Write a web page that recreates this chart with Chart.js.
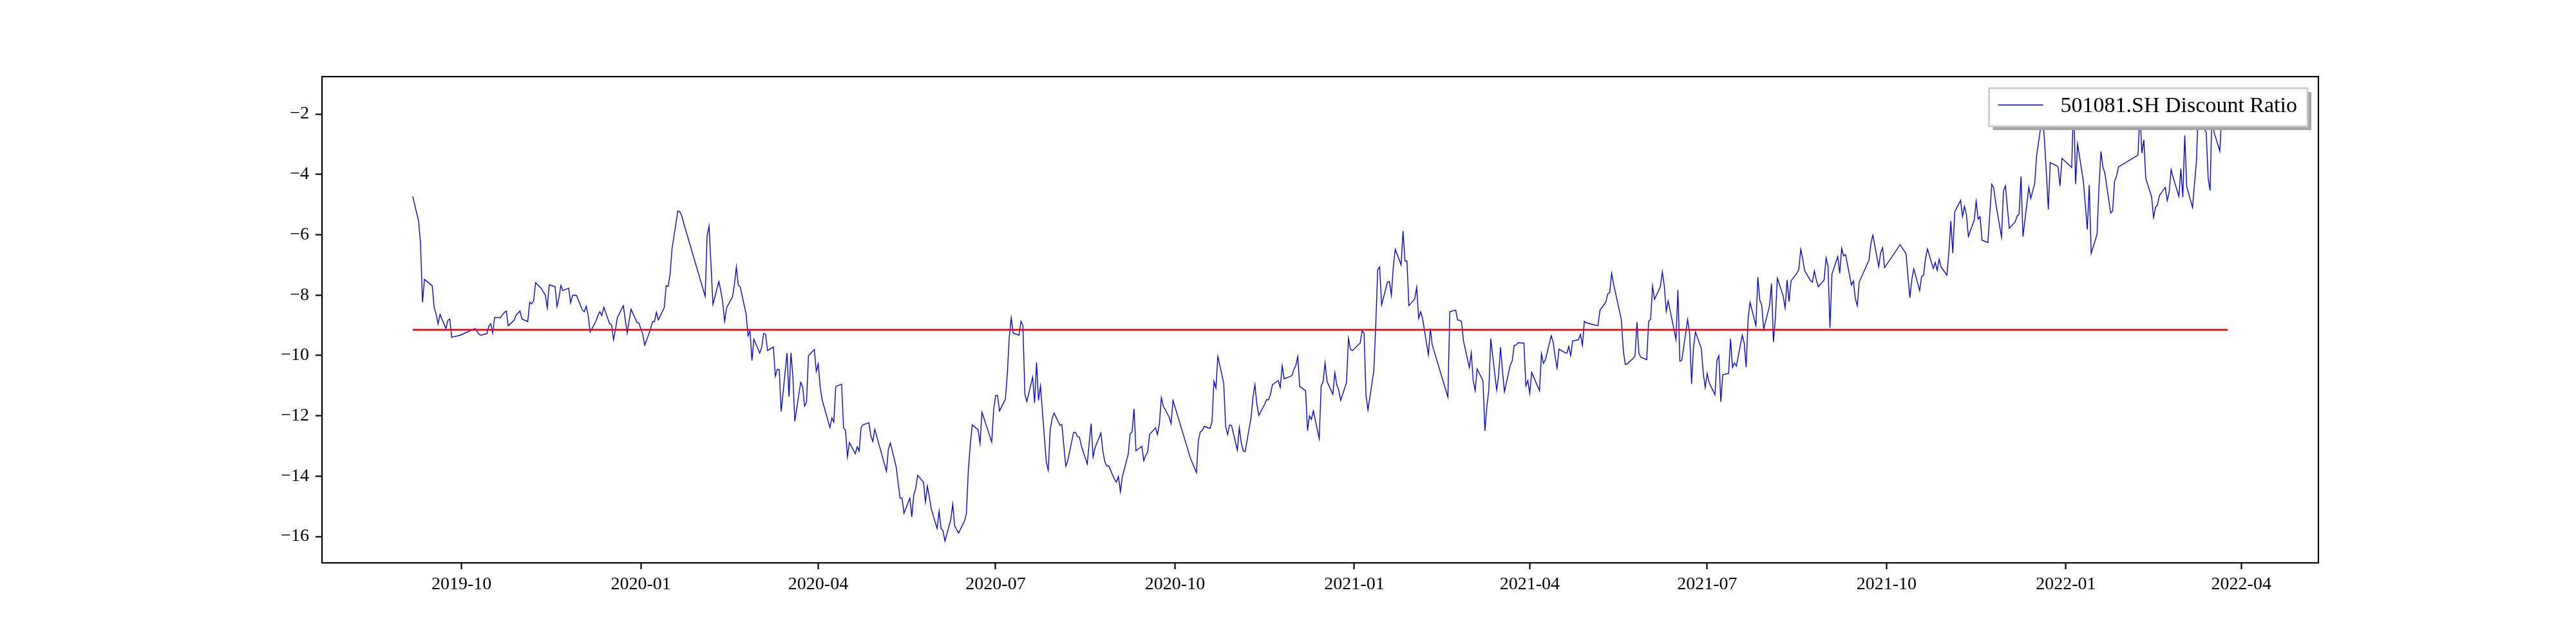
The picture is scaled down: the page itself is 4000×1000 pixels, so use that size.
<!DOCTYPE html>
<html>
<head>
<meta charset="utf-8">
<title>501081.SH Discount Ratio</title>
<script src="https://cdn.jsdelivr.net/npm/chart.js@4.4.1/dist/chart.umd.min.js"></script>
<style>
  html, body { margin: 0; padding: 0; background: #ffffff; }
  #wrap { width: 4000px; height: 1000px; }
</style>
</head>
<body>
<div id="wrap"><canvas id="myChart" width="4000" height="1000"></canvas></div>
<script>
// trading days (MM-DD) and discount ratio (%) per year
const days2019 = ['09-06','09-09','09-10','09-11','09-12','09-16','09-17','09-18','09-19','09-20',
  '09-23','09-24','09-25','09-26','09-27','09-30','10-08','10-09','10-10','10-11',
  '10-14','10-15','10-16','10-17','10-18','10-21','10-22','10-23','10-24','10-25',
  '10-28','10-29','10-30','10-31','11-01','11-04','11-05','11-06','11-07','11-08',
  '11-11','11-12','11-13','11-14','11-15','11-18','11-19','11-20','11-21','11-22',
  '11-25','11-26','11-27','11-28','11-29','12-02','12-03','12-04','12-05','12-06',
  '12-09','12-10','12-11','12-12','12-13','12-16','12-17','12-18','12-19','12-20',
  '12-23','12-24','12-25','12-26','12-27','12-30','12-31'];
const ratio2019 = [-4.73,-5.55,-6.29,-8.24,-7.48,-7.69,-8.42,-8.63,-8.96,-8.64,
  -9.11,-8.84,-8.79,-9.40,-9.38,-9.34,-9.11,-9.20,-9.30,-9.33,
  -9.28,-9.04,-8.95,-9.26,-8.74,-8.75,-8.65,-8.58,-8.53,-9.02,
  -8.83,-8.67,-8.60,-8.53,-8.79,-8.88,-8.24,-8.29,-8.19,-7.59,
  -7.78,-7.90,-7.99,-8.43,-7.66,-7.72,-8.38,-8.10,-7.68,-7.85,
  -7.77,-8.26,-8.01,-8.00,-8.01,-8.49,-8.55,-8.37,-8.67,-9.22,
  -8.86,-8.67,-8.55,-8.68,-8.40,-8.95,-8.98,-9.48,-9.13,-8.74,
  -8.35,-8.80,-9.26,-8.85,-8.47,-8.90,-8.93];

const days2020 = ['01-02','01-03','01-06','01-07','01-08','01-09','01-10','01-13','01-14','01-15',
  '01-16','01-17','01-20','01-21','01-22','01-23','02-03','02-04','02-05','02-06',
  '02-07','02-10','02-11','02-12','02-13','02-14','02-17','02-18','02-19','02-20',
  '02-21','02-24','02-25','02-26','02-27','02-28','03-02','03-03','03-04','03-05',
  '03-06','03-09','03-10','03-11','03-12','03-13','03-16','03-17','03-18','03-19',
  '03-20','03-23','03-24','03-25','03-26','03-27','03-30','03-31','04-01','04-02',
  '04-03','04-07','04-08','04-09','04-10','04-13','04-14','04-15','04-16','04-17',
  '04-20','04-21','04-22','04-23','04-24','04-27','04-28','04-29','04-30','05-06',
  '05-07','05-08','05-11','05-12','05-13','05-14','05-15','05-18','05-19','05-20',
  '05-21','05-22','05-25','05-26','05-27','05-28','05-29','06-01','06-02','06-03',
  '06-04','06-05','06-08','06-09','06-10','06-11','06-12','06-15','06-16','06-17',
  '06-18','06-19','06-22','06-23','06-24','06-29','06-30','07-01','07-02','07-03',
  '07-06','07-07','07-08','07-09','07-10','07-13','07-14','07-15','07-16','07-17',
  '07-20','07-21','07-22','07-23','07-24','07-27','07-28','07-29','07-30','07-31',
  '08-03','08-04','08-05','08-06','08-07','08-10','08-11','08-12','08-13','08-14',
  '08-17','08-18','08-19','08-20','08-21','08-24','08-25','08-26','08-27','08-28',
  '08-31','09-01','09-02','09-03','09-04','09-07','09-08','09-09','09-10','09-11',
  '09-14','09-15','09-16','09-17','09-18','09-21','09-22','09-23','09-24','09-25',
  '09-28','09-29','09-30','10-09','10-12','10-13','10-14','10-15','10-16','10-19',
  '10-20','10-21','10-22','10-23','10-26','10-27','10-28','10-29','10-30','11-02',
  '11-03','11-04','11-05','11-06','11-09','11-10','11-11','11-12','11-13','11-16',
  '11-17','11-18','11-19','11-20','11-23','11-24','11-25','11-26','11-27','11-30',
  '12-01','12-02','12-03','12-04','12-07','12-08','12-09','12-10','12-11','12-14',
  '12-15','12-16','12-17','12-18','12-21','12-22','12-23','12-24','12-25','12-28',
  '12-29','12-30','12-31'];
const ratio2020 = [-9.30,-9.66,-9.13,-8.88,-8.88,-8.57,-8.82,-8.42,-7.69,-7.71,
  -7.32,-6.47,-5.21,-5.24,-5.37,-5.62,-8.04,-6.03,-5.71,-7.00,
  -8.31,-7.55,-7.85,-8.24,-8.87,-8.42,-8.06,-7.67,-7.06,-7.67,
  -7.73,-8.63,-9.35,-9.18,-10.17,-9.46,-9.92,-9.73,-9.27,-9.30,
  -9.84,-9.72,-10.69,-10.46,-10.47,-11.86,-9.92,-11.36,-9.92,-10.69,
  -12.18,-10.89,-11.03,-11.68,-11.55,-10.01,-9.80,-10.53,-10.28,-11.04,
  -11.47,-12.39,-12.07,-12.21,-11.03,-10.95,-12.41,-12.48,-13.36,-12.89,
  -13.26,-13.03,-13.17,-12.38,-12.30,-12.23,-12.67,-12.85,-12.45,-13.84,
  -13.10,-12.90,-13.70,-14.23,-14.73,-14.73,-15.23,-14.73,-15.35,-14.62,
  -14.41,-13.97,-14.20,-14.86,-14.33,-14.70,-15.09,-15.74,-15.16,-15.73,
  -15.81,-16.15,-15.44,-14.93,-15.65,-15.77,-15.89,-15.49,-15.25,-13.81,
  -12.96,-12.30,-12.46,-12.92,-11.88,-12.87,-11.79,-11.33,-11.33,-11.84,
  -11.45,-10.62,-9.40,-8.75,-9.26,-9.33,-8.87,-9.00,-11.28,-11.53,
  -10.72,-11.57,-10.23,-11.49,-11.01,-13.54,-13.81,-12.46,-12.09,-11.91,
  -12.32,-12.29,-13.00,-13.67,-13.49,-12.55,-12.55,-12.69,-12.71,-13.00,
  -13.60,-12.90,-12.26,-13.37,-13.06,-12.57,-13.17,-13.52,-13.67,-13.66,
  -14.11,-14.20,-14.01,-14.52,-14.02,-13.28,-12.60,-12.53,-11.77,-13.16,
  -13.01,-13.49,-13.31,-13.20,-12.62,-12.40,-12.62,-12.28,-11.40,-11.68,
  -12.04,-12.26,-11.49,-13.42,-13.88,-12.82,-12.53,-12.49,-12.35,-12.42,
  -12.19,-10.85,-11.08,-10.03,-10.92,-12.35,-12.62,-12.31,-12.32,-13.14,
  -12.39,-12.89,-13.16,-13.19,-12.07,-11.40,-10.97,-11.61,-11.99,-11.62,
  -11.47,-11.47,-11.29,-10.97,-10.83,-11.06,-10.35,-10.77,-10.75,-10.67,
  -10.47,-10.33,-10.03,-11.03,-11.17,-12.49,-12.00,-12.12,-11.84,-12.76,
  -11.01,-10.87,-10.25,-10.86,-11.29,-10.57,-10.97,-11.15,-11.49,-10.90,
  -9.43,-9.80,-9.84];

const days2021 = ['01-04','01-05','01-06','01-07','01-08','01-11','01-12','01-13','01-14','01-15',
  '01-18','01-19','01-20','01-21','01-22','01-25','01-26','01-27','01-28','01-29',
  '02-01','02-02','02-03','02-04','02-05','02-08','02-09','02-10','02-18','02-19',
  '02-22','02-23','02-24','02-25','02-26','03-01','03-02','03-03','03-04','03-05',
  '03-08','03-09','03-10','03-11','03-12','03-15','03-16','03-17','03-18','03-19',
  '03-22','03-23','03-24','03-25','03-26','03-29','03-30','03-31','04-01','04-02',
  '04-06','04-07','04-08','04-09','04-12','04-13','04-14','04-15','04-16','04-19',
  '04-20','04-21','04-22','04-23','04-26','04-27','04-28','04-29','04-30','05-06',
  '05-07','05-10','05-11','05-12','05-13','05-14','05-17','05-18','05-19','05-20',
  '05-21','05-24','05-25','05-26','05-27','05-28','05-31','06-01','06-02','06-03',
  '06-04','06-07','06-08','06-09','06-10','06-11','06-15','06-16','06-17','06-18',
  '06-21','06-22','06-23','06-24','06-25','06-28','06-29','06-30','07-01','07-02',
  '07-05','07-06','07-07','07-08','07-09','07-12','07-13','07-14','07-15','07-16',
  '07-19','07-20','07-21','07-22','07-23','07-26','07-27','07-28','07-29','07-30',
  '08-02','08-03','08-04','08-05','08-06','08-09','08-10','08-11','08-12','08-13',
  '08-16','08-17','08-18','08-19','08-20','08-23','08-24','08-25','08-26','08-27',
  '08-30','08-31','09-01','09-02','09-03','09-06','09-07','09-08','09-09','09-10',
  '09-13','09-14','09-15','09-16','09-17','09-22','09-23','09-24','09-27','09-28',
  '09-29','09-30','10-08','10-11','10-12','10-13','10-14','10-15','10-18','10-19',
  '10-20','10-21','10-22','10-25','10-26','10-27','10-28','10-29','11-01','11-02',
  '11-03','11-04','11-05','11-08','11-09','11-10','11-11','11-12','11-15','11-16',
  '11-17','11-18','11-19','11-22','11-23','11-24','11-25','11-26','11-29','11-30',
  '12-01','12-02','12-03','12-06','12-07','12-08','12-09','12-10','12-13','12-14',
  '12-15','12-16','12-17','12-20','12-21','12-22','12-23','12-24','12-27','12-28',
  '12-29','12-30','12-31'];
const ratio2021 = [-9.59,-9.18,-9.26,-11.33,-11.81,-10.51,-9.00,-7.16,-7.07,-8.33,
  -7.57,-7.55,-8.01,-7.07,-6.48,-7.00,-5.88,-6.87,-6.87,-8.35,
  -8.13,-7.74,-8.77,-8.55,-8.77,-9.98,-9.11,-9.66,-11.38,-8.55,
  -8.50,-8.83,-8.83,-8.88,-9.52,-10.40,-9.91,-10.84,-11.17,-10.45,
  -10.84,-12.50,-11.68,-11.15,-9.45,-11.15,-10.69,-9.73,-10.51,-11.20,
  -10.32,-10.18,-9.67,-9.66,-9.58,-9.59,-11.01,-10.83,-11.26,-10.56,
  -11.17,-9.94,-10.26,-10.15,-9.35,-9.55,-10.04,-10.42,-9.79,-9.91,
  -9.93,-9.70,-10.01,-9.52,-9.48,-9.30,-9.67,-8.87,-8.92,-9.02,
  -8.50,-8.24,-7.96,-7.92,-7.28,-7.64,-8.52,-8.82,-9.84,-10.30,
  -10.28,-10.10,-10.02,-8.90,-9.94,-10.06,-10.14,-8.87,-8.80,-7.70,
  -8.14,-7.72,-7.23,-7.68,-8.54,-8.19,-9.47,-7.83,-10.19,-10.16,
  -8.81,-9.27,-10.94,-9.73,-9.22,-9.77,-10.58,-11.06,-10.60,-10.90,
  -11.31,-10.16,-10.00,-11.54,-10.64,-10.60,-9.45,-10.40,-10.25,-10.35,
  -9.33,-9.59,-10.39,-8.79,-8.24,-9.01,-7.41,-8.17,-8.33,-9.13,
  -8.35,-7.62,-9.55,-8.77,-7.44,-8.03,-8.43,-7.50,-8.22,-7.53,
  -7.28,-7.16,-6.48,-6.79,-7.19,-7.52,-7.57,-7.20,-7.50,-7.72,
  -7.50,-6.76,-7.04,-9.09,-7.31,-6.72,-7.28,-6.45,-6.70,-6.66,
  -7.67,-7.53,-8.11,-8.35,-7.57,-6.84,-6.29,-6.01,-7.06,-6.59,
  -6.43,-7.09,-6.33,-6.63,-7.36,-8.09,-7.48,-7.13,-7.85,-7.38,
  -7.34,-6.79,-6.47,-7.12,-6.92,-7.18,-6.81,-7.07,-7.34,-6.57,
  -5.55,-6.61,-5.24,-4.86,-5.40,-5.06,-5.33,-6.06,-5.51,-4.89,
  -5.48,-5.40,-6.18,-6.26,-5.30,-4.33,-4.45,-4.94,-6.08,-4.55,
  -4.38,-5.09,-5.79,-5.57,-5.38,-5.32,-4.07,-6.06,-4.43,-4.80,
  -4.55,-4.31,-3.38,-2.04,-2.83,-3.95,-5.16,-3.61,-3.70,-3.75,
  -4.38,-3.47,-3.53];

const days2022 = ['01-04','01-05','01-06','01-07','01-10','01-11','01-12','01-13','01-14','01-17',
  '01-18','01-19','01-20','01-21','01-24','01-25','01-26','01-27','01-28','02-07',
  '02-08','02-09','02-10','02-11','02-14','02-15','02-16','02-17','02-18','02-21',
  '02-22','02-23','02-24','02-25','02-28','03-01','03-02','03-03','03-04','03-07',
  '03-08','03-09','03-10','03-11','03-14','03-15','03-16','03-17','03-18','03-21',
  '03-22','03-23','03-24','03-25'];
const ratio2022 = [-3.77,-1.45,-4.32,-2.99,-4.23,-5.01,-5.83,-4.35,-6.62,-5.99,
  -4.41,-3.24,-3.76,-3.95,-5.28,-5.21,-4.23,-4.06,-3.75,-3.36,
  -1.89,-3.30,-2.85,-4.13,-4.75,-5.43,-5.09,-5.01,-4.70,-4.43,
  -4.87,-4.59,-3.84,-4.09,-4.73,-3.81,-4.75,-2.71,-4.40,-5.10,
  -4.31,-3.56,-1.68,-2.30,-2.60,-4.13,-4.53,-1.75,-2.60,-3.23,
  -1.90,-2.20,-1.95,-2.10];

// horizontal reference level (red line)
const meanRatio = -9.15;

// axis ticks
const xTickLabels = ['2019-10','2020-01','2020-04','2020-07','2020-10','2021-01',
  '2021-04','2021-07','2021-10','2022-01','2022-04'];
const yTickValues = [-16, -14, -12, -10, -8, -6, -4, -2];

const seriesLabel = '501081.SH Discount Ratio';

// day number counted from 2019-10-01
function dayNum(s) {
  const p = s.split('-').map(Number);
  return (Date.UTC(p[0], p[1] - 1, p[2] || 1) - Date.UTC(2019, 9, 1)) / 86400000;
}

const dates = [].concat(
  days2019.map(d => '2019-' + d),
  days2020.map(d => '2020-' + d),
  days2021.map(d => '2021-' + d),
  days2022.map(d => '2022-' + d)
);
const ratio = [].concat(ratio2019, ratio2020, ratio2021, ratio2022);

const points = dates.map((d, i) => ({ x: dayNum(d), y: ratio[i] }));
const firstDay = points[0].x;
const lastDay = points[points.length - 1].x;
const span = lastDay - firstDay;

const tickFont = { family: 'Liberation Serif', size: 28 };

// frame + legend drawn over the lines, like the original
const frameAndLegend = {
  id: 'frameAndLegend',
  afterDatasetsDraw(chart) {
    const ctx = chart.ctx;
    const a = chart.chartArea;
    ctx.save();
    ctx.strokeStyle = '#000';
    ctx.lineWidth = 2.2;
    ctx.strokeRect(a.left, a.top, a.right - a.left, a.bottom - a.top);

    ctx.font = '34px "Liberation Serif"';
    const tw = ctx.measureText(seriesLabel).width;
    const w = 14 + 70 + 27 + tw + 16;
    const h = 59;
    const x = a.right - 17 - w;
    const y = a.top + 18;

    ctx.fillStyle = '#a6a6a6';
    ctx.fillRect(x + 6, y + 6, w, h);
    ctx.fillStyle = '#ffffff';
    ctx.fillRect(x, y, w, h);
    ctx.strokeStyle = '#cccccc';
    ctx.lineWidth = 2.8;
    ctx.strokeRect(x, y, w, h);

    ctx.strokeStyle = '#0000ff';
    ctx.lineWidth = 1.4;
    ctx.beginPath();
    ctx.moveTo(x + 14, y + 26);
    ctx.lineTo(x + 84, y + 26);
    ctx.stroke();

    ctx.fillStyle = '#000';
    ctx.textBaseline = 'middle';
    ctx.textAlign = 'left';
    ctx.fillText(seriesLabel, x + 111, y + 28);
    ctx.restore();
  }
};

new Chart(document.getElementById('myChart'), {
  type: 'line',
  data: {
    datasets: [
      {
        label: 'mean',
        data: [{ x: firstDay, y: meanRatio }, { x: lastDay, y: meanRatio }],
        borderColor: '#ff0000',
        borderWidth: 2.8,
        pointRadius: 0,
        order: 0
      },
      {
        label: seriesLabel,
        data: points,
        borderColor: '#0000ff',
        borderWidth: 1.4,
        pointRadius: 0,
        tension: 0,
        order: 1
      }
    ]
  },
  options: {
    responsive: false,
    devicePixelRatio: 1,
    animation: false,
    events: [],
    layout: { padding: { top: 119, right: 400, bottom: 0, left: 0 } },
    plugins: {
      legend: { display: false },
      title: { display: false },
      tooltip: { enabled: false }
    },
    scales: {
      x: {
        type: 'linear',
        min: firstDay - span * 0.05,
        max: lastDay + span * 0.05,
        border: { display: false },
        grid: { drawOnChartArea: false, tickLength: 10, tickWidth: 2.2, color: '#000' },
        ticks: {
          color: '#000',
          font: tickFont,
          padding: 7,
          autoSkip: false,
          maxRotation: 0,
          minRotation: 0,
          callback: (v) => {
            const i = xTickLabels.findIndex(l => dayNum(l) === v);
            return i >= 0 ? xTickLabels[i] : '';
          }
        },
        afterBuildTicks: (scale) => {
          scale.ticks = xTickLabels.map(l => ({ value: dayNum(l) }));
        },
        afterFit: (scale) => { scale.height = 126; }
      },
      y: {
        type: 'linear',
        min: -16.875,
        max: -0.76,
        border: { display: false },
        grid: { drawOnChartArea: false, tickLength: 10, tickWidth: 2.2, color: '#000' },
        ticks: {
          color: '#000',
          font: tickFont,
          padding: 10,
          callback: (v) => (v < 0 ? '\u2212' : '') + Math.abs(v)
        },
        afterBuildTicks: (scale) => {
          scale.ticks = yTickValues.map(v => ({ value: v }));
        },
        afterFit: (scale) => { scale.width = 500; }
      }
    }
  },
  plugins: [frameAndLegend]
});
</script>
</body>
</html>
